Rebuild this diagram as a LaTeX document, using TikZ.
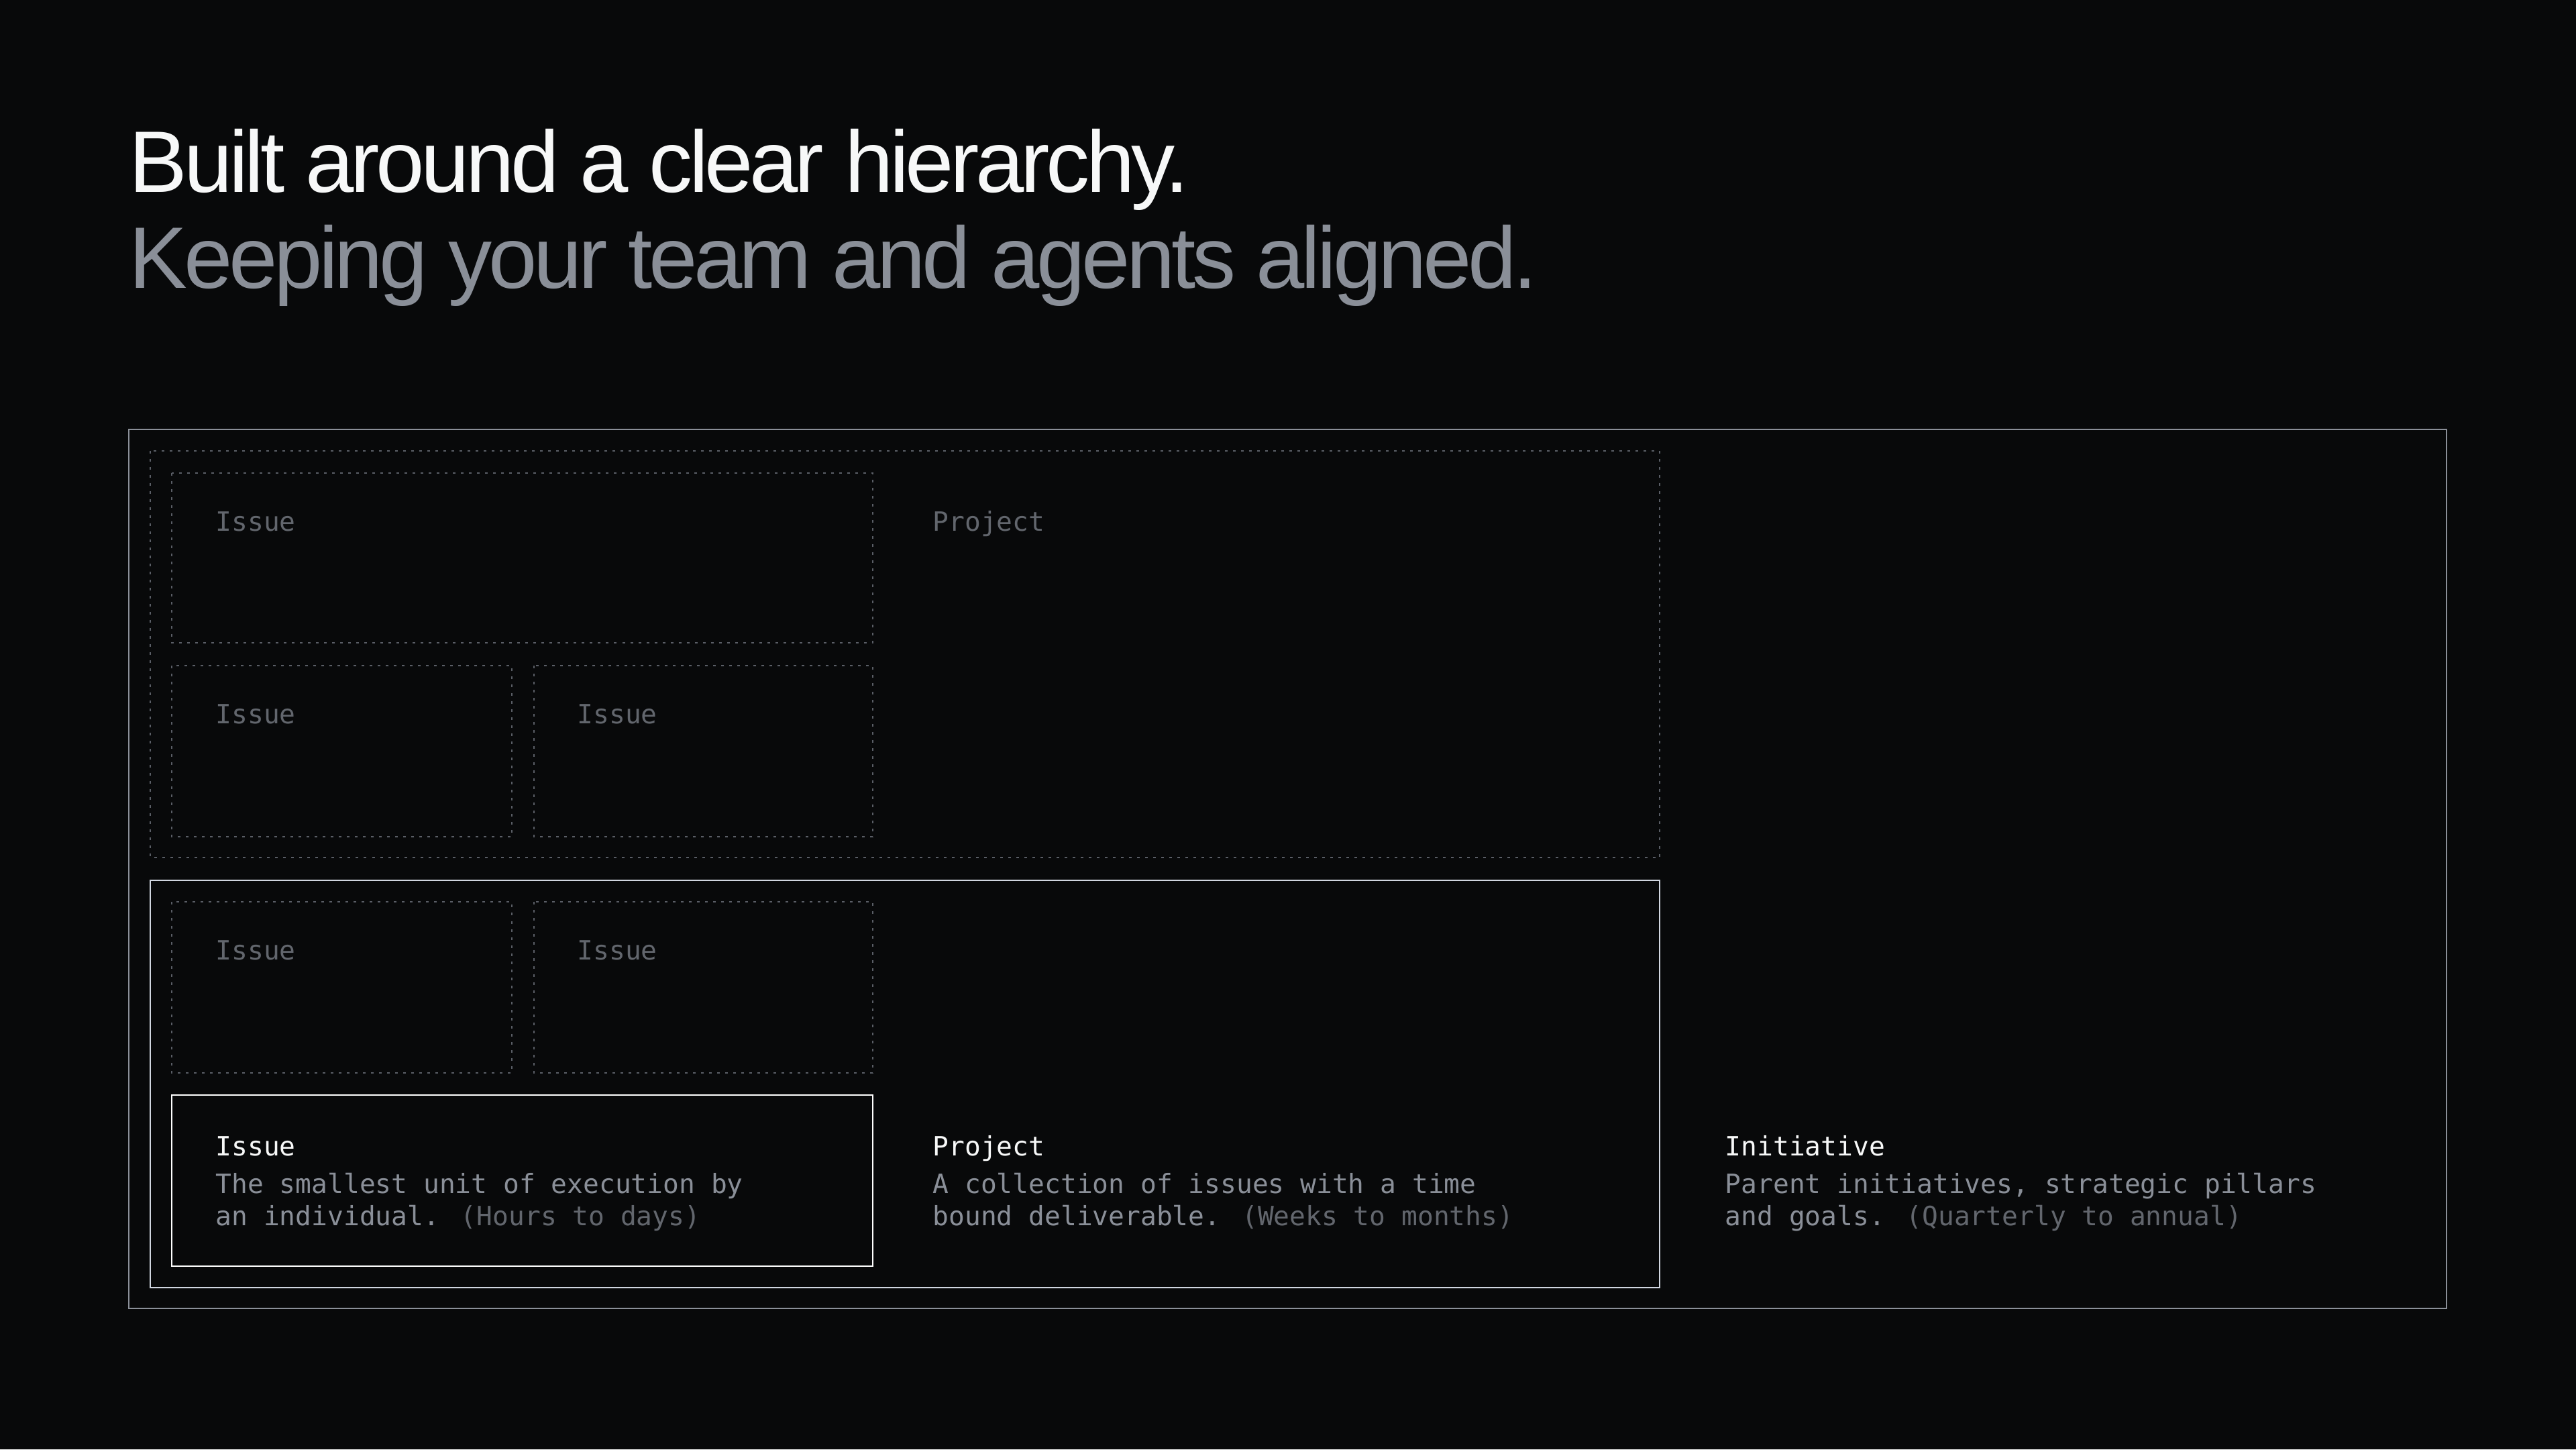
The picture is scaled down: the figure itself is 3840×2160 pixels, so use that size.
\documentclass[tikz,border=0pt]{standalone}
\usepackage{fontspec}
\setmainfont{Liberation Sans}
\newfontfamily\headfont{Liberation Sans}[LetterSpace=-4.1]
\newfontfamily\codefont{DejaVu Sans Mono}
\definecolor{bgc}{HTML}{08090A}
\definecolor{headc}{HTML}{F7F8F8}
\definecolor{subc}{HTML}{8A8F98}
\definecolor{outerc}{HTML}{8A8F98}
\definecolor{projc}{HTML}{D0D6E0}
\definecolor{dotc}{HTML}{5A5E66}
\definecolor{dimc}{HTML}{62666D}
\begin{document}
\begin{tikzpicture}[x=0.01cm,y=-0.01cm,
		dotbox/.style={draw=dotc, line width=0.02cm, dash pattern=on 0.04cm off 0.08cm},
		label/.style={anchor=base west, inner sep=0pt, font=\codefont\fontsize{11.25}{13.7}\selectfont},
		dimlabel/.style={label, text=dimc},
		desc/.style={label, text=subc}]
						\fill[bgc] (0,0) rectangle (3840,2160);
						\node [anchor=base west, inner sep=0pt, text=headc, font=\headfont\fontsize{37}{41}\selectfont] (title) at (192,286) {Built around a clear hierarchy.};
						\node [anchor=base west, inner sep=0pt, text=subc, font=\headfont\fontsize{37}{41}\selectfont] (subtitle) at (192,429) {Keeping your team and agents aligned.};
						\draw [outerc, line width=0.02cm] (192,640) rectangle (3647,1950);
						\draw [dotbox] (224,672) rectangle (2474,1278);
						\draw [dotbox] (256,705) rectangle (1301,958);
						\draw [dotbox] (256,992) rectangle (763,1247);
						\draw [dotbox] (796,992) rectangle (1301,1247);
						\draw [projc, line width=0.02cm] (224,1312) rectangle (2474,1919);
						\draw [dotbox] (256,1344) rectangle (763,1599);
						\draw [dotbox] (796,1344) rectangle (1301,1599);
						\draw [white, line width=0.025cm] (256,1632) rectangle (1301,1887);
						\node [dimlabel] (issuea) at (321,791) {Issue};
						\node [dimlabel] (issueb) at (321,1078) {Issue};
						\node [dimlabel] (issuec) at (860,1078) {Issue};
						\node [dimlabel] (issued) at (321,1430) {Issue};
						\node [dimlabel] (issuee) at (860,1430) {Issue};
						\node [dimlabel] (projecta) at (1390,791) {Project};
						\node [label, text=headc] (issue) at (321,1722) {Issue};
						\node [desc] (issuedesca) at (321,1778) {The smallest unit of execution by};
						\node [desc] (issuedescb) at (321,1826) {an individual. \textcolor{dimc}{(Hours to days)}};
						\node [label, text=headc] (project) at (1390,1722) {Project};
						\node [desc] (projectdesca) at (1390,1778) {A collection of issues with a time};
						\node [desc] (projectdescb) at (1390,1826) {bound deliverable. \textcolor{dimc}{(Weeks to months)}};
						\node [label, text=headc] (initiative) at (2571,1722) {Initiative};
						\node [desc] (initiativedesca) at (2571,1778) {Parent initiatives, strategic pillars};
						\node [desc] (initiativedescb) at (2571,1826) {and goals. \textcolor{dimc}{(Quarterly to annual)}};
					\end{tikzpicture}
\end{document}
